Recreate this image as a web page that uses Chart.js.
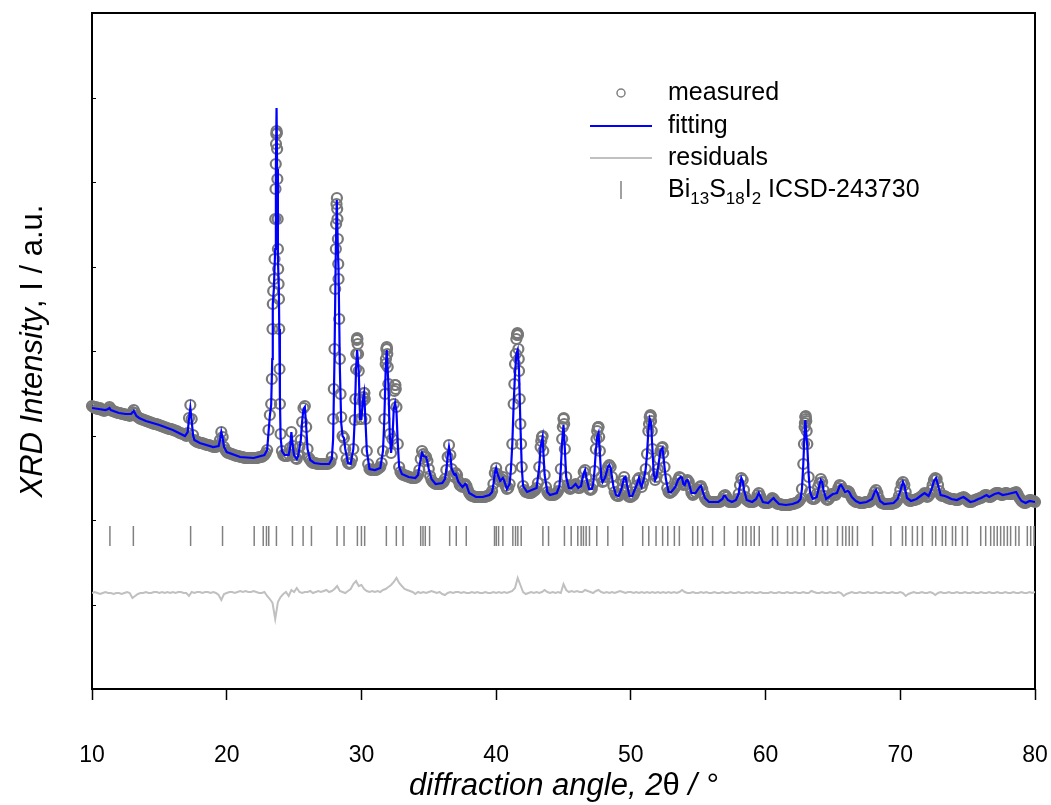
<!DOCTYPE html>
<html><head><meta charset="utf-8">
<script src="https://cdn.jsdelivr.net/npm/chart.js@4.4.1/dist/chart.umd.min.js"></script>
<style>html,body{margin:0;padding:0;background:#fff;}canvas{display:block;}</style>
</head><body>
<canvas id="c" width="1051" height="805"></canvas>
<script>
// ---- DATA (intensity in arbitrary units) ----
const measuredStart = 10, measuredStep = 0.1;
const measured = [
283,282,281,282,280,280,281,279,279,278,
279,279,280,282,280,278,278,277,277,276,
276,276,275,275,275,274,274,274,273,275,
277,279,276,273,272,271,270,270,269,269,
268,268,267,267,266,266,265,265,265,264,
264,263,263,262,262,261,261,260,260,260,
259,259,258,258,257,256,256,255,255,254,
253,256,271,284,270,254,249,248,247,247,
246,246,246,245,245,244,244,244,243,243,
242,242,242,243,244,249,257,252,242,239,
237,236,236,235,235,234,234,233,233,233,
232,232,232,231,231,231,231,231,231,231,
231,231,231,231,232,232,232,233,234,236,
239,259,274,285,360,410,470,558,440,360,
255,238,234,233,233,233,235,241,257,243,
234,231,230,234,242,249,267,281,283,262,
240,231,229,227,226,226,226,225,225,225,
225,225,225,225,225,225,226,227,232,270,
340,440,480,410,330,272,253,251,240,230,
226,225,226,230,240,269,320,350,318,270,
270,288,296,270,238,225,220,219,219,219,
219,219,220,221,222,226,238,270,325,340,
305,255,236,250,285,304,282,245,222,217,
215,214,214,213,213,212,212,211,211,211,
211,212,214,219,230,238,235,233,232,228,
220,213,209,207,206,205,205,205,205,205,
206,207,210,219,232,244,234,220,214,212,
216,214,208,204,203,202,204,205,203,199,
196,194,193,193,192,192,192,192,192,192,
192,192,192,193,193,194,195,198,205,216,
221,215,209,208,210,212,208,203,200,201,
205,220,245,285,325,350,355,318,265,222,
203,199,197,197,196,196,196,197,198,199,
201,206,222,242,252,238,214,202,197,195,
194,194,194,194,195,196,198,203,220,250,
270,240,212,204,201,200,201,202,204,205,
203,201,201,203,208,217,219,211,204,200,
199,200,205,218,240,258,262,238,212,207,
208,212,218,222,224,222,212,203,197,194,
193,193,195,200,208,212,206,198,193,192,
192,193,194,197,203,209,211,205,202,206,
212,220,235,258,272,268,240,215,209,212,
220,230,238,241,236,222,210,201,197,196,
197,198,200,202,205,209,212,211,207,204,
205,208,209,207,201,196,194,195,197,200,
199,202,203,200,195,191,189,188,187,187,
187,187,187,187,187,187,187,188,190,193,
194,192,189,187,187,187,187,187,188,190,
195,204,211,209,199,192,189,188,187,187,
187,187,188,190,194,196,193,189,187,186,
186,186,186,187,189,191,190,188,186,185,
185,185,184,184,184,184,184,184,184,185,
185,185,186,186,187,188,190,200,225,262,
270,245,212,197,191,190,190,191,195,202,
206,210,207,199,193,190,189,190,192,195,
195,194,194,197,201,204,203,200,198,197,
197,198,197,194,191,189,188,187,187,187,
186,186,186,186,187,187,187,187,188,190,
193,197,199,196,191,188,186,186,185,185,
185,185,185,185,185,186,186,187,189,193,
199,205,207,204,197,191,189,188,188,189,
189,189,190,190,191,192,193,194,196,195,
192,193,195,199,204,209,211,210,204,198,
194,193,193,193,192,191,191,190,190,190,
190,189,189,189,190,191,191,192,191,190,
188,187,187,187,188,189,189,190,190,191,
191,192,193,194,194,193,192,192,193,194,
195,196,196,196,195,194,194,195,196,196,
195,195,195,195,196,196,197,195,192,190,
188,187,186,186,187,188,189,189,188,188,
187];

// extra measured points on the flanks of the strong reflections [2theta, I]
const measuredPeakPoints = [
[23.35,310],[23.42,385],[23.45,398],[23.55,430],[23.62,500],[23.64,525],[23.66,545],[23.68,555],[23.72,556],[23.74,540],[23.76,510],[23.78,470],[23.82,420],[23.85,405],[23.88,390],[23.92,320],[23.95,285],
[27.95,300],[28.05,400],[28.12,465],[28.15,485],[28.18,491],[28.22,470],[28.25,450],[28.28,425],[28.35,370],[28.45,295],
[29.55,290],[29.62,335],[29.66,349],[29.68,351],[29.72,345],[29.75,335],[29.85,290],
[30.15,292],[30.22,296],[30.25,290],
[31.75,295],[31.82,330],[31.85,340],[31.88,342],[31.92,335],[31.95,322],
[32.45,298],[32.52,304],[32.55,300],
[41.35,305],[41.45,335],[41.55,354],[41.58,356],[41.62,354],[41.65,340],[41.68,330],[41.75,290],[41.85,245],
[43.35,248],[43.45,253],
[44.95,262],[45.02,271],[45.05,265],
[47.45,250],[47.55,261],[47.58,262],[47.65,252],
[51.35,265],[51.45,274],[51.48,273],[51.55,258],
[52.35,242],
[62.85,245],[62.92,266],[62.95,272],[62.98,273],[63.02,268],[63.05,258]
];

// fitted profile vertices [2theta, I]
const fitPoints = [
[10,281],[10.5,280],[11,279],[11.2,280],[11.3,281],[11.4,279],[12,276],[12.5,275],[12.9,275],[13.1,278],[13.3,273],[13.5,271],[14,268],[15,264],[16,259],[16.9,253],[17.1,257],[17.2,270],[17.3,281],[17.4,268],[17.5,254],[17.6,249],[18,246],[19,242],[19.4,243],[19.5,249],[19.6,257],[19.7,251],[19.8,242],[20,237],[21,232],[22,231],[22.8,234],[23,239],[23.1,256],[23.2,273],[23.3,284],[23.38,330],[23.42,385],[23.5,400],[23.6,440],[23.65,520],[23.7,581],[23.74,520],[23.8,430],[23.87,401],[23.9,360],[23.95,290],[24,252],[24.1,238],[24.3,234],[24.6,234],[24.7,241],[24.8,257],[24.9,243],[25,234],[25.2,230],[25.3,233],[25.5,249],[25.6,268],[25.7,280],[25.8,282],[25.9,262],[26,240],[26.2,229],[26.5,226],[27,225],[27.6,225],[27.8,230],[27.9,250],[28,330],[28.1,440],[28.17,489],[28.25,440],[28.3,420],[28.4,320],[28.5,266],[28.6,253],[28.7,251],[28.8,240],[29,226],[29.2,225],[29.4,240],[29.5,269],[29.6,320],[29.68,339],[29.8,318],[29.9,270],[30,270],[30.1,288],[30.2,296],[30.3,268],[30.4,238],[30.6,220],[31,219],[31.4,221],[31.6,238],[31.7,270],[31.8,320],[31.88,339],[32,305],[32.1,255],[32.2,236],[32.3,250],[32.4,280],[32.5,286],[32.6,278],[32.7,245],[32.8,222],[33,215],[33.5,212],[34,211],[34.2,214],[34.4,230],[34.5,236],[34.6,233],[34.8,232],[34.9,227],[35,220],[35.2,210],[35.5,205],[36,206],[36.2,210],[36.3,219],[36.4,232],[36.5,242],[36.6,234],[36.7,220],[36.9,214],[37,215],[37.2,207],[37.5,202],[37.7,205],[37.8,204],[38,196],[38.5,192],[39,192],[39.5,194],[39.7,197],[39.8,205],[39.9,216],[40,221],[40.1,215],[40.3,208],[40.5,211],[40.6,208],[40.8,200],[41,205],[41.1,220],[41.2,245],[41.3,285],[41.4,315],[41.5,335],[41.6,339],[41.7,318],[41.8,265],[41.9,222],[42,203],[42.3,197],[43,201],[43.2,222],[43.3,242],[43.45,252],[43.5,238],[43.6,214],[43.8,197],[44,194],[44.5,196],[44.7,203],[44.8,220],[44.9,248],[45,264],[45.1,240],[45.2,212],[45.4,201],[45.6,201],[45.9,205],[46.1,201],[46.3,203],[46.5,216],[46.6,219],[46.7,211],[46.9,200],[47.1,200],[47.2,205],[47.3,218],[47.4,238],[47.5,252],[47.6,256],[47.7,236],[47.8,212],[47.9,207],[48.1,212],[48.3,222],[48.4,224],[48.5,221],[48.7,203],[48.9,194],[49.1,193],[49.3,200],[49.5,211],[49.6,212],[49.7,205],[49.9,193],[50.1,193],[50.4,203],[50.6,211],[50.7,205],[50.8,202],[51,212],[51.1,220],[51.2,235],[51.3,258],[51.4,270],[51.5,266],[51.6,240],[51.7,215],[51.8,209],[51.9,212],[52,220],[52.2,238],[52.35,241],[52.5,222],[52.6,210],[52.8,197],[53,197],[53.3,202],[53.5,209],[53.7,212],[53.8,211],[53.9,205],[54,204],[54.1,208],[54.2,209],[54.3,206],[54.5,196],[54.8,196],[55.1,202],[55.2,203],[55.3,199],[55.5,191],[55.8,187],[56.5,187],[56.8,190],[56.9,193],[57,193],[57.2,189],[57.5,187],[57.8,189],[58,195],[58.1,204],[58.2,211],[58.3,208],[58.4,199],[58.6,189],[59,187],[59.3,190],[59.5,196],[59.6,193],[59.8,187],[60.2,186],[60.5,190],[60.6,191],[60.7,189],[61,185],[61.5,184],[62,185],[62.4,187],[62.6,190],[62.7,200],[62.8,225],[62.9,258],[62.95,269],[63.05,250],[63.1,242],[63.2,214],[63.3,197],[63.5,190],[63.8,192],[64,204],[64.1,209],[64.2,207],[64.3,199],[64.5,190],[64.8,193],[65,195],[65.3,196],[65.5,203],[65.6,204],[65.7,202],[65.9,197],[66.1,198],[66.2,197],[66.4,192],[66.7,188],[67,186],[67.5,187],[67.9,190],[68.1,197],[68.2,199],[68.3,196],[68.5,188],[68.8,185],[69.5,186],[69.8,190],[70,198],[70.2,207],[70.3,204],[70.5,191],[70.8,188],[71.2,190],[71.6,194],[71.8,196],[71.9,195],[72.1,193],[72.3,199],[72.5,208],[72.65,211],[72.8,204],[73,194],[73.3,193],[73.5,192],[73.8,190],[74.2,189],[74.5,191],[74.7,192],[74.9,190],[75.2,187],[75.5,188],[75.8,190],[76,191],[76.4,194],[76.6,192],[77,195],[77.3,196],[77.6,194],[78,195],[78.3,196],[78.6,197],[78.8,192],[79,188],[79.3,186],[79.6,188],[80,187]
];

// residuals (offset baseline) on a 0.2 degree grid
const residualStart = 10, residualStep = 0.2;
const residuals = [
96,97,96,95,96,97,96,96,95,96,
96,95,96,97,96,91,93,95,96,96,
97,96,96,97,97,96,97,96,97,96,
97,96,97,97,96,96,93,97,96,97,
97,96,97,97,96,97,96,94,89,95,
96,97,97,96,97,98,97,98,97,97,
98,97,96,96,97,93,90,86,70,87,
92,95,97,93,99,97,101,97,96,97,
97,98,96,97,98,97,98,99,97,98,
100,103,98,97,96,98,100,105,108,103,
104,100,98,97,98,97,98,97,99,100,
102,104,107,111,106,103,100,99,98,97,
95,97,96,97,96,97,98,97,96,97,
95,94,96,97,96,97,97,96,97,96,
96,97,96,97,96,96,97,96,96,97,
96,97,96,97,96,97,98,101,111,104,
97,95,96,97,96,97,96,97,99,97,
96,97,96,97,96,105,99,97,98,97,
98,97,97,99,98,97,96,98,99,97,
96,97,96,97,96,97,98,97,96,97,
97,96,97,96,97,96,97,96,97,96,
97,96,97,96,97,96,97,96,97,99,
97,96,96,97,96,96,97,96,97,96,
96,97,96,96,97,96,96,97,96,96,
97,96,96,97,96,97,96,96,97,96,
96,96,97,96,96,97,96,96,97,96,
96,97,96,96,97,96,96,98,97,96,
96,97,96,96,97,96,96,97,96,93,
95,96,97,96,96,97,96,96,97,96,
96,97,96,96,97,96,96,97,96,96,
97,96,93,95,96,97,96,96,97,96,
96,97,96,94,96,97,96,96,97,96,
96,97,96,96,97,96,96,97,96,96,
97,96,96,97,96,96,97,96,96,97,
96,96,97,96,96,97,96,96,97,96,
97];

// Bi13S18I2 (ICSD-243730) reflection positions, 2theta
const reflectionAngles = [11.33,13.07,17.32,19.69,22.04,22.71,22.95,23.12,23.69,24.88,25.67,26.29,28.19,28.71,29.70,30.00,30.24,31.85,32.59,33.09,34.40,34.57,34.74,35.06,36.55,37.04,37.78,39.88,40.01,40.18,40.50,41.24,41.44,41.61,41.86,43.47,43.89,45.07,45.57,46.06,46.31,46.48,46.68,46.93,47.47,48.29,49.40,50.88,51.33,51.87,52.36,52.74,53.23,53.60,54.59,54.96,55.33,56.07,56.94,57.93,58.30,58.55,58.92,59.16,59.53,60.52,60.89,61.63,62.00,62.37,62.87,63.73,64.23,64.60,65.34,65.71,65.96,66.21,66.45,66.82,67.94,69.30,70.16,70.41,70.90,71.27,71.64,72.38,72.63,73.12,73.37,73.87,74.11,74.61,74.98,75.97,76.34,76.71,76.96,77.20,77.45,77.70,77.95,78.19,78.56,78.81,79.43,79.68,79.93];
const reflectionLevel = 153;

const xTicks = [10,20,30,40,50,60,70,80];
const yMin = 0, yMax = 676, yStep = 84.5;

const legendLabels = ['measured','fitting','residuals'];
const phaseLabel = [['Bi',''],['13','sub'],['S',''],['18','sub'],['I',''],['2','sub'],[' ICSD-243730','']];
const xTitle = [['diffraction angle, 2','italic'],['\u03B8',''],[' / \u00B0','italic']];
const yTitle = [['XRD Intensity','italic'],[', I / a.u.','']];

// ---- build datasets ----
const measuredData = measured.map((v,i)=>({x:+(measuredStart+i*measuredStep).toFixed(2), y:v}))
  .concat(measuredPeakPoints.map(p=>({x:p[0], y:p[1]})));
const fitData = fitPoints.map(p=>({x:p[0], y:p[1]}));
const residualData = residuals.map((v,i)=>({x:+(residualStart+i*residualStep).toFixed(2), y:v}));
const reflectionData = reflectionAngles.map(a=>({x:a, y:reflectionLevel}));

const FONT = '"Liberation Sans", Arial, sans-serif';

function drawRuns(ctx, runs, size, x, y, align){
  let total = 0;
  runs.forEach(r=>{ ctx.font = (r[1]==='italic'?'italic ':'') + size + 'px ' + FONT; total += ctx.measureText(r[0]).width; });
  let cx = align==='center' ? x - total/2 : x;
  runs.forEach(r=>{ ctx.font = (r[1]==='italic'?'italic ':'') + size + 'px ' + FONT; ctx.fillText(r[0], cx, y); cx += ctx.measureText(r[0]).width; });
}

const decor = {
  id:'decor',
  beforeDatasetsDraw(chart){
    const {ctx, chartArea:a, scales:{y}} = chart;
    ctx.save();
    ctx.strokeStyle = '#000';
    ctx.lineWidth = 1;
    y.ticks.forEach(t=>{
      const py = Math.round(y.getPixelForValue(t.value)) + 0.5;
      ctx.beginPath(); ctx.moveTo(a.left, py); ctx.lineTo(a.left+4, py); ctx.stroke();
    });
    ctx.lineWidth = 2;
    ctx.strokeRect(a.left, a.top, a.right-a.left, a.bottom-a.top);
    ctx.restore();
  },
  afterDraw(chart){
    const {ctx, chartArea:a} = chart;
    ctx.save();
    ctx.fillStyle = '#000';
    ctx.textBaseline = 'middle';
    drawRuns(ctx, xTitle, 31, (a.left+a.right)/2, 786, 'center');
    ctx.save();
    ctx.translate(33, (a.top+a.bottom)/2);
    ctx.rotate(-Math.PI/2);
    drawRuns(ctx, yTitle, 31, 0, 0, 'center');
    ctx.restore();
    const lx = 621, tx = 668, rows = [93, 126, 158, 190];
    ctx.strokeStyle = '#808080'; ctx.lineWidth = 1.5;
    ctx.beginPath(); ctx.arc(lx, rows[0], 4, 0, Math.PI*2); ctx.stroke();
    ctx.strokeStyle = '#0000ff'; ctx.lineWidth = 2;
    ctx.beginPath(); ctx.moveTo(590, rows[1]); ctx.lineTo(652, rows[1]); ctx.stroke();
    ctx.strokeStyle = '#c0c0c0'; ctx.lineWidth = 2;
    ctx.beginPath(); ctx.moveTo(590, rows[2]); ctx.lineTo(652, rows[2]); ctx.stroke();
    ctx.strokeStyle = '#808080'; ctx.lineWidth = 1.5;
    ctx.beginPath(); ctx.moveTo(lx, rows[3]-9); ctx.lineTo(lx, rows[3]+9); ctx.stroke();
    ctx.font = '25px ' + FONT;
    legendLabels.forEach((t,i)=>ctx.fillText(t, tx, rows[i]));
    let cx = tx;
    phaseLabel.forEach(r=>{
      if (r[1]==='sub'){ ctx.font = '17px ' + FONT; ctx.fillText(r[0], cx, rows[3]+9); }
      else { ctx.font = '25px ' + FONT; ctx.fillText(r[0], cx, rows[3]); }
      cx += ctx.measureText(r[0]).width;
    });
    ctx.restore();
  }
};

new Chart(document.getElementById('c').getContext('2d'), {
  type:'scatter',
  data:{datasets:[
    {label:'fitting', data:fitData, showLine:true, borderColor:'#0000ff', borderWidth:2.2, pointRadius:0, order:0},
    {label:'measured', data:measuredData, showLine:false, pointRadius:5, pointBorderWidth:2.2, pointBorderColor:'#787878', pointBackgroundColor:'rgba(255,255,255,0)', clip:false, order:1},
    {label:'residuals', data:residualData, showLine:true, borderColor:'#c0c0c0', borderWidth:2, pointRadius:0, order:2},
    {label:'Bi13S18I2 ICSD-243730', data:reflectionData, showLine:false, pointStyle:'line', pointRotation:90, pointRadius:10, pointBorderWidth:1.5, pointBorderColor:'#808080', order:3}
  ]},
  options:{
    responsive:false, animation:false, devicePixelRatio:1,
    layout:{autoPadding:false, padding:{top:13, right:16, left:0, bottom:0}},
    plugins:{legend:{display:false}, tooltip:{enabled:false}},
    scales:{
      x:{type:'linear', min:10, max:80,
        afterBuildTicks:(s)=>{ s.ticks = xTicks.map(v=>({value:v})); },
        afterFit:(s)=>{ s.height = 116; s.paddingLeft = 0; s.paddingRight = 0; },
        border:{display:false},
        grid:{drawOnChartArea:false, drawTicks:true, tickLength:11, tickColor:'#000', tickWidth:1.5},
        ticks:{padding:42, color:'#000', font:{family:FONT, size:23}, maxRotation:0}
      },
      y:{min:yMin, max:yMax,
        ticks:{display:false, stepSize:yStep},
        grid:{display:false},
        border:{display:false},
        afterFit:(s)=>{ s.width = 92; s.paddingTop = 0; s.paddingBottom = 0; }
      }
    }
  },
  plugins:[decor]
});
</script>
</body></html>
